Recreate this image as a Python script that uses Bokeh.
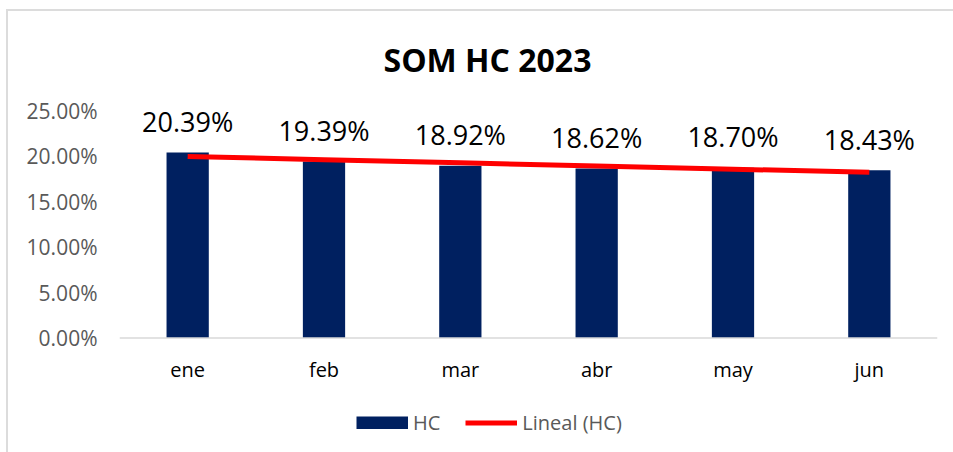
import numpy as np
from bokeh.plotting import figure
from bokeh.models import (ColumnDataSource, FactorRange, Range1d, NumeralTickFormatter,
                          FixedTicker, Legend, LegendItem, Span)
from bokeh.core.properties import value
from bokeh.embed import file_html
from bokeh.resources import INLINE

# ---- data ----
months = ["ene", "feb", "mar", "abr", "may", "jun"]
hc = [0.2039, 0.1939, 0.1892, 0.1862, 0.1870, 0.1843]
y_ticks = [0.0, 0.05, 0.10, 0.15, 0.20, 0.25]
y_max = 0.25
title_text = "SOM HC 2023"
series_name = "HC"
trend_name = "Lineal (HC)"

# linear trendline (least squares, like Excel's "Lineal")
xs = np.arange(1, len(hc) + 1)
slope, intercept = np.polyfit(xs, hc, 1)
trend = list(slope * xs + intercept)

labels = ["{:.2f}%".format(v * 100) for v in hc]
src = ColumnDataSource(dict(m=months, v=hc, lab=labels, t=trend,
                            zero=[0.0] * len(months)))

FONT = "Open Sans"
BAR_COLOR = "#002060"

# layout geometry (pixels): the frame extends below the value axis so the
# legend can live inside it; zero sits at y=337.5, max at y=110.
W, H = 953, 452
TOP, ZERO_Y = 110, 337.5
px_per_unit = (ZERO_Y - TOP) / y_max
y_start = -(H - ZERO_Y) / px_per_unit

p = figure(width=W, height=H, x_range=FactorRange(*months, range_padding=0),
           y_range=Range1d(y_start, y_max), output_backend="svg",
           toolbar_location=None,
           min_border_left=119, min_border_right=16, min_border_top=TOP,
           min_border_bottom=0)
p.outline_line_color = None
p.xgrid.visible = False
p.ygrid.visible = False
p.border_fill_alpha = 0
p.background_fill_alpha = 0
p.styles = {
    "background": "linear-gradient(#dcdcdc,#dcdcdc) 6px 9px / 2px 100% no-repeat, "
                  "linear-gradient(#dcdcdc,#dcdcdc) 6px 9px / 100% 2px no-repeat, #ffffff"
}

# title
p.title.text = title_text
p.title.align = "left"
p.title.offset = 264
p.title.standoff = 60
p.title.text_font = FONT
p.title.text_font_size = "32px"
p.title.text_font_style = "bold"
p.title.text_color = "#000000"

bars = p.vbar(x="m", top="v", width=0.31, source=src, fill_color=BAR_COLOR,
              line_color=None)
tl = p.line(x="m", y="t", source=src, line_color="#ff0000", line_width=5)
# legend swatch for the bar series (full-size block, as in the original);
# a single-point line draws nothing on the plot itself
swatch = p.line(x=months[:1], y=hc[:1], line_color=BAR_COLOR, line_width=13)

# data labels
p.text(x="m", y="v", text="lab", source=src, text_align="center",
       text_baseline="alphabetic", y_offset=-31, text_font=value(FONT),
       text_font_size="27px", text_color="#000000")

# category axis: line at zero and labels below it
p.add_layout(Span(location=0, dimension="width", line_color="#d9d9d9",
                  line_width=1.5))
p.text(x="m", y="zero", text="m", source=src, text_align="center",
       text_baseline="middle", y_offset=31, text_font=value(FONT),
       text_font_size="20px", text_color="#000000")
p.xaxis.visible = False

# value axis
p.yaxis.ticker = FixedTicker(ticks=y_ticks)
p.yaxis.formatter = NumeralTickFormatter(format="0.00%")
p.yaxis.axis_line_color = None
p.yaxis.major_tick_line_color = None
p.yaxis.minor_tick_line_color = None
p.yaxis.major_label_standoff = 16
p.yaxis.major_label_text_font = FONT
p.yaxis.major_label_text_font_size = "21px"
p.yaxis.major_label_text_color = "#595959"

legend = Legend(items=[LegendItem(label=series_name, renderers=[swatch]),
                       LegendItem(label=trend_name, renderers=[tl])],
                orientation="horizontal", location=(237, 16),
                glyph_width=52, glyph_height=13, label_standoff=5, spacing=25,
                padding=0, margin=0, border_line_color=None,
                background_fill_alpha=0,
                label_text_font=FONT, label_text_font_size="20px",
                label_text_color="#595959")
p.add_layout(legend, "center")

open("out.html", "w").write(file_html(p, INLINE))
